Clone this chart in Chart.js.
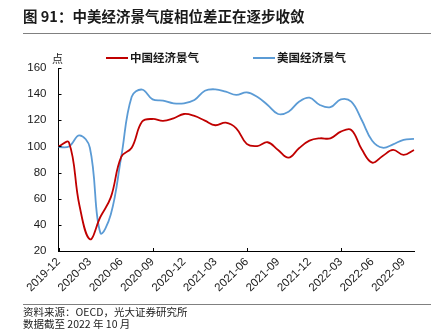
<!DOCTYPE html>
<html>
<head>
<meta charset="utf-8">
<script src="https://cdn.jsdelivr.net/npm/chart.js@4.4.0/dist/chart.umd.min.js"></script>
<style>
  html, body { margin: 0; padding: 0; background: #fff; }
  body { width: 439px; height: 334px; position: relative; overflow: hidden;
         font-family: "Noto Sans CJK SC", "Liberation Sans", sans-serif; color: #1a1a1a; }
  #wrap { position: absolute; left: 0; top: 0; width: 439px; height: 334px; }
  .title { position: absolute; left: 23px; top: 5px; font-size: 14.5px; font-weight: bold; white-space: nowrap; }
  .rule { position: absolute; left: 23px; width: 408px; height: 0; border-top: 1.5px solid #808080; }
  .unit { position: absolute; left: 52px; top: 50px; font-size: 11px; }
  .leg { position: absolute; top: 49px; font-size: 11.5px; font-weight: bold; white-space: nowrap; }
  .leg span.ln { display: inline-block; width: 22px; height: 2px; vertical-align: middle; margin-right: 2px; position: relative; top: -1px; }
  .foot { position: absolute; left: 23px; font-size: 10.5px; white-space: nowrap; color: #222; }
</style>
</head>
<body>
<div id="wrap"><canvas id="c" width="439" height="334"></canvas></div>
<div class="title">图 91：中美经济景气度相位差正在逐步收敛</div>
<div class="rule" style="top:33px"></div>
<div class="unit">点</div>
<div class="leg" style="left:106px"><span class="ln" style="background:#C00000"></span>中国经济景气</div>
<div class="leg" style="left:253px"><span class="ln" style="background:#5B9BD5"></span>美国经济景气</div>
<div class="rule" style="top:304px"></div>
<div class="foot" style="top:304px">资料来源：OECD，光大证券研究所</div>
<div class="foot" style="top:316px">数据截至 2022 年 10 月</div>
<script>
const months = ["2019-12","2020-01","2020-02","2020-03","2020-04","2020-05","2020-06","2020-07","2020-08","2020-09","2020-10","2020-11","2020-12",
  "2021-01","2021-02","2021-03","2021-04","2021-05","2021-06","2021-07","2021-08","2021-09","2021-10","2021-11","2021-12",
  "2022-01","2022-02","2022-03","2022-04","2022-05","2022-06","2022-07","2022-08","2022-09","2022-10"];
const chinaSeries = [100, 103, 55, 29, 46, 61, 92, 99, 119, 121, 119.5, 121.5, 124.8,
  123.3, 119.7, 116.2, 118.2, 113.9, 102, 100.3, 103.2, 97.3, 91.4, 98.6, 104.4,
  106.2, 106.2, 111.3, 112.6, 97.8, 87.6, 92.7, 97.3, 93.5, 97.3];
const usSeries = [99.5, 100, 108.5, 99, 34, 48, 92, 138, 143.5, 136, 135, 133, 133,
  135.5, 142.6, 143.7, 141.9, 139.4, 141.4, 138, 131.7, 124.8, 126.6, 134.2, 137.3,
  131.7, 130, 136, 134.2, 120.2, 104.4, 99, 101.6, 105, 105.7];
const yTicks = [20, 40, 60, 80, 100, 120, 140, 160];
const tickFont = { family: "'Liberation Sans', 'Noto Sans CJK SC', sans-serif", size: 11.5 };

const innerTicks = {
  id: 'innerTicks',
  afterDraw(chart) {
    const ctx = chart.ctx, x = chart.scales.x, y = chart.scales.y;
    ctx.save();
    ctx.strokeStyle = '#000';
    ctx.lineWidth = 1;
    ctx.beginPath();
    x.ticks.forEach((t, i) => {
      if (i % 3 !== 0) return;
      const px = Math.round(x.getPixelForTick(i)) + 0.5;
      ctx.moveTo(px, x.top); ctx.lineTo(px, x.top - 3);
    });
    y.ticks.forEach((t, i) => {
      const py = Math.round(y.getPixelForTick(i)) + 0.5;
      ctx.moveTo(y.right, py); ctx.lineTo(y.right + 3, py);
    });
    ctx.stroke();
    ctx.restore();
  }
};

new Chart(document.getElementById('c'), {
  type: 'line',
  data: {
    labels: months,
    datasets: [
      { label: '中国经济景气', data: chinaSeries, borderColor: '#C00000', borderWidth: 1.8, pointRadius: 0, tension: 0.4, fill: false },
      { label: '美国经济景气', data: usSeries, borderColor: '#5B9BD5', borderWidth: 1.8, pointRadius: 0, tension: 0.4, fill: false }
    ]
  },
  options: {
    responsive: false,
    animation: false,
    events: [],
    layout: { padding: { left: 0, right: 25, top: 68, bottom: 33 } },
    plugins: { legend: { display: false }, tooltip: { enabled: false } },
    scales: {
      x: {
        type: 'category',
        offset: false,
        grid: { display: false, drawTicks: false },
        border: { display: true, color: '#000', width: 1 },
        ticks: {
          autoSkip: false, maxRotation: 45, minRotation: 45, padding: 4,
          color: '#1a1a1a', font: tickFont,
          callback: function(v, i) { return i % 3 === 0 ? months[i] : null; }
        },
        afterFit(scale) { scale.height = 50; }
      },
      y: {
        min: 20, max: 160,
        grid: { display: false, drawTicks: false },
        border: { display: true, color: '#000', width: 1 },
        afterBuildTicks(scale) { scale.ticks = yTicks.map(v => ({ value: v })); },
        ticks: { padding: 12, color: '#1a1a1a', font: tickFont },
        afterFit(scale) { scale.width = 58.5; }
      }
    }
  },
  plugins: [innerTicks]
});
</script>
</body>
</html>
